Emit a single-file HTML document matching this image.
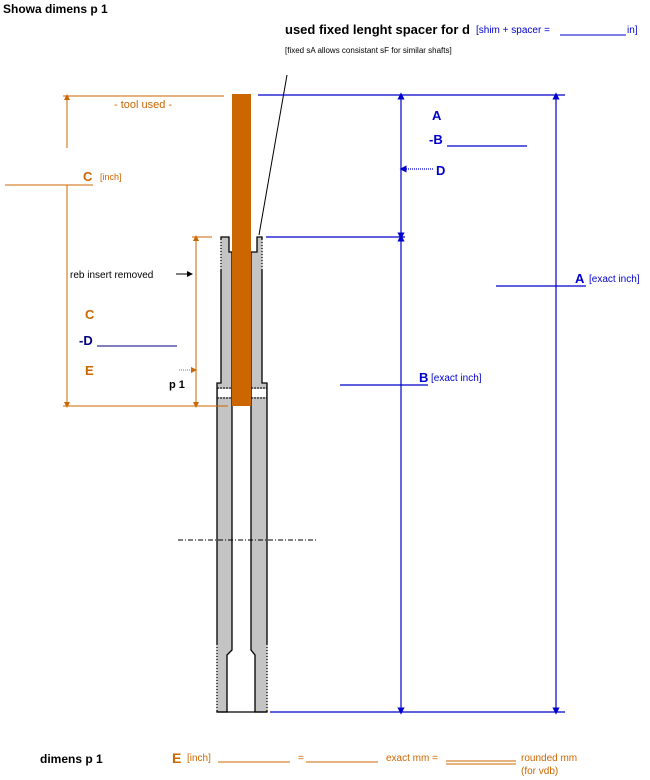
<!DOCTYPE html>
<html><head><meta charset="utf-8"><style>
html,body{margin:0;padding:0;background:#fff;}
body{width:650px;height:780px;overflow:hidden;position:relative;}
svg{position:absolute;left:0;top:0;}
text{font-family:"Liberation Sans",sans-serif;}
</style></head><body>
<svg width="650" height="780" viewBox="0 0 650 780">
<defs>
<marker id="ab" markerWidth="6" markerHeight="6" refX="3" refY="3" orient="auto"><path d="M0,0 L6,3 L0,6 Z" fill="#0000cc"/></marker>
<marker id="ao" markerWidth="6" markerHeight="6" refX="3" refY="3" orient="auto"><path d="M0,0 L6,3 L0,6 Z" fill="#cc6600"/></marker>
<marker id="ak" markerWidth="6" markerHeight="6" refX="3" refY="3" orient="auto"><path d="M0,0 L6,3 L0,6 Z" fill="#000"/></marker>
</defs>
<!-- titles -->
<text x="3" y="13" font-size="12" font-weight="bold" fill="#000">Showa  dimens  p 1</text>
<text x="285" y="34" font-size="13" font-weight="bold" fill="#000">used fixed lenght spacer for d</text>
<text x="476" y="33" font-size="10" fill="#0000cc">[shim + spacer = </text>
<line x1="560" y1="35" x2="626" y2="35" stroke="#0000cc" stroke-width="1"/>
<text x="627" y="33" font-size="10" fill="#0000cc">in]</text>
<text x="285" y="53" font-size="8" fill="#000">[fixed sA allows consistant sF for similar shafts]</text>
<line x1="287" y1="75" x2="259" y2="235" stroke="#000" stroke-width="1"/>

<!-- tube walls -->
<g fill="#c4c4c4" stroke="#000" stroke-width="1.3">
<polygon points="221,237 229,237 229,252 232,252 232,650 227,655 227,712 217,712 217,383 221,383"/>
<polygon points="257,237 262,237 262,383 267,383 267,712 255,712 255,655 251,650 251,252 257,252"/>
</g>
<rect x="218" y="389" width="13" height="8" fill="#fff"/>
<rect x="252" y="389" width="14" height="8" fill="#fff"/>
<g stroke="#000" stroke-dasharray="2,1" stroke-width="1">
<line x1="217" y1="388" x2="232" y2="388"/><line x1="217" y1="398" x2="232" y2="398"/>
<line x1="251" y1="388" x2="267" y2="388"/><line x1="251" y1="398" x2="267" y2="398"/>
<line x1="221" y1="240" x2="221" y2="270" stroke="#fff"/>
<line x1="262" y1="240" x2="262" y2="270" stroke="#fff"/>
<line x1="217" y1="645" x2="217" y2="710" stroke="#fff"/>
<line x1="267" y1="645" x2="267" y2="710" stroke="#fff"/>
</g>
<line x1="217" y1="712" x2="267" y2="712" stroke="#000" stroke-width="1.3"/>
<!-- tool -->
<rect x="232" y="94" width="19" height="312" fill="#cc6600"/>
<!-- center line -->
<line x1="178" y1="540" x2="317" y2="540" stroke="#000" stroke-dasharray="5,2,1,2" stroke-width="1"/>

<!-- orange dims -->
<g stroke="#cc6600" stroke-width="1" fill="none">
<line x1="63" y1="96" x2="224" y2="96"/>
<line x1="67" y1="148" x2="67" y2="97" marker-end="url(#ao)"/>
<line x1="5" y1="185" x2="93" y2="185"/>
<line x1="67" y1="185" x2="67" y2="405" marker-end="url(#ao)"/>
<line x1="63" y1="406" x2="228" y2="406"/>
<line x1="192" y1="237" x2="212" y2="237"/>
<line x1="196" y1="300" x2="196" y2="238" marker-end="url(#ao)"/>
<line x1="196" y1="300" x2="196" y2="405" marker-end="url(#ao)"/>
<line x1="179" y1="370" x2="194" y2="370" stroke-dasharray="1,1" marker-end="url(#ao)"/>
</g>
<text x="114" y="108" font-size="11" fill="#cc6600">- tool used -</text>
<text x="83" y="181" font-size="13" font-weight="bold" fill="#cc6600">C</text>
<text x="100" y="180" font-size="9" fill="#cc6600">[inch]</text>
<text x="70" y="278" font-size="10" fill="#000">reb insert removed</text>
<line x1="176" y1="274" x2="190" y2="274" stroke="#000" marker-end="url(#ak)"/>
<text x="85" y="319" font-size="13" font-weight="bold" fill="#cc6600">C</text>
<text x="79" y="345" font-size="13" font-weight="bold" fill="#000080">-D</text>
<line x1="97" y1="346" x2="177" y2="346" stroke="#000080" stroke-width="1"/>
<text x="85" y="375" font-size="13" font-weight="bold" fill="#cc6600">E</text>
<text x="169" y="388" font-size="11" font-weight="bold" fill="#000">p 1</text>

<!-- blue dims -->
<g stroke="#0000cc" stroke-width="1.2" fill="none">
<line x1="258" y1="95" x2="565" y2="95"/>
<line x1="401" y1="170" x2="401" y2="96" marker-end="url(#ab)"/>
<line x1="401" y1="170" x2="401" y2="236" marker-end="url(#ab)"/>
<line x1="401" y1="480" x2="401" y2="238" marker-end="url(#ab)"/>
<line x1="401" y1="480" x2="401" y2="711" marker-end="url(#ab)"/>
<line x1="556" y1="400" x2="556" y2="96" marker-end="url(#ab)"/>
<line x1="556" y1="400" x2="556" y2="711" marker-end="url(#ab)"/>
<line x1="266" y1="237" x2="405" y2="237"/>
<line x1="496" y1="286" x2="586" y2="286"/>
<line x1="340" y1="385" x2="428" y2="385"/>
<line x1="270" y1="712" x2="565" y2="712"/>
<line x1="447" y1="146" x2="527" y2="146"/>
<line x1="433" y1="169" x2="403" y2="169" stroke-dasharray="1,1" marker-end="url(#ab)"/>
</g>
<text x="432" y="120" font-size="13" font-weight="bold" fill="#0000cc">A</text>
<text x="429" y="144" font-size="13" font-weight="bold" fill="#0000cc">-B</text>
<text x="436" y="175" font-size="13" font-weight="bold" fill="#0000cc">D</text>
<text x="575" y="283" font-size="13" font-weight="bold" fill="#0000cc">A</text>
<text x="589" y="282" font-size="10" fill="#0000cc">[exact inch]</text>
<text x="419" y="382" font-size="13" font-weight="bold" fill="#0000cc">B</text>
<text x="431" y="381" font-size="10" fill="#0000cc">[exact inch]</text>

<!-- bottom -->
<text x="40" y="763" font-size="12" font-weight="bold" fill="#000">dimens  p 1</text>
<text x="172" y="763" font-size="14" font-weight="bold" fill="#cc6600">E</text>
<text x="187" y="761" font-size="10" fill="#cc6600">[inch]</text>
<line x1="218" y1="762" x2="290" y2="762" stroke="#cc6600"/>
<text x="298" y="761" font-size="10" fill="#cc6600">=</text>
<line x1="306" y1="762" x2="378" y2="762" stroke="#cc6600"/>
<text x="386" y="761" font-size="10" fill="#cc6600">exact mm  =</text>
<line x1="446" y1="761" x2="516" y2="761" stroke="#cc6600"/>
<line x1="446" y1="764" x2="516" y2="764" stroke="#cc6600"/>
<text x="521" y="761" font-size="10" fill="#cc6600">rounded mm</text>
<text x="521" y="774" font-size="10" fill="#cc6600">(for vdb)</text>
</svg>
</body></html>
